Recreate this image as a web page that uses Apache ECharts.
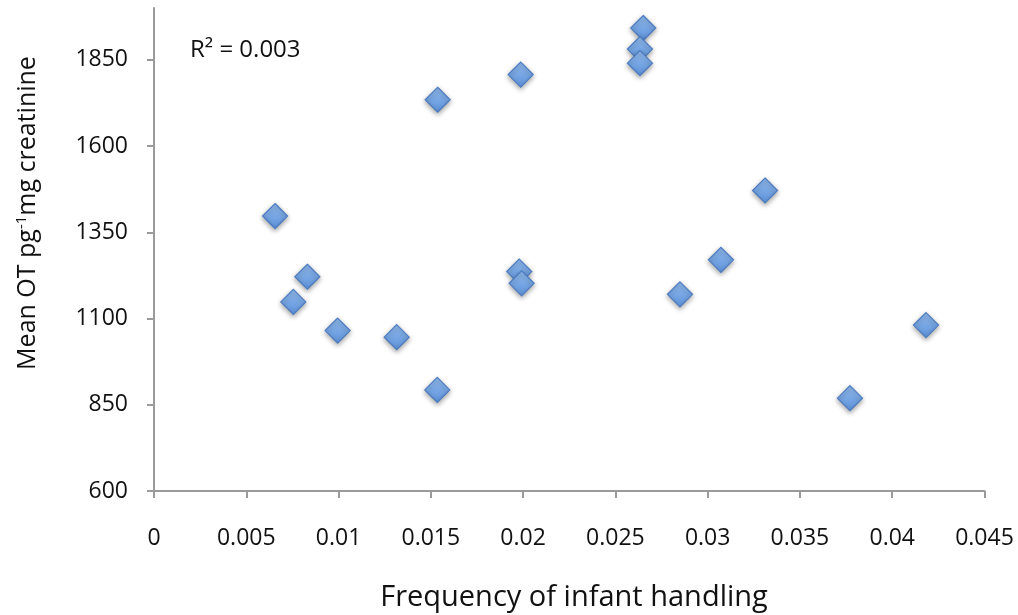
<!DOCTYPE html>
<html>
<head>
<meta charset="utf-8">
<script src="https://cdn.jsdelivr.net/npm/echarts@6/dist/echarts.min.js"></script>
<style>
html,body{margin:0;padding:0;background:#fff;}
#chart{width:1018px;height:615px;}
</style>
</head>
<body>
<div id="chart"></div>
<script>
// Data
const handlingFreq = [0.00656, 0.00755, 0.00831, 0.00995, 0.01315, 0.01537, 0.01535, 0.01987, 0.01979, 0.01992, 0.02651, 0.02633, 0.02633, 0.02850, 0.03072, 0.03311, 0.03771, 0.04183];
const meanOT       = [1397, 1148, 1221, 1065, 1046, 1734, 893, 1807, 1236, 1202, 1942, 1881, 1840, 1170, 1270, 1471, 869, 1081];
const yTicks = [600, 850, 1100, 1350, 1600, 1850];
const xTicks = [0, 0.005, 0.01, 0.015, 0.02, 0.025, 0.03, 0.035, 0.04, 0.045];
const xTickLabels = ['0', '0.005', '0.01', '0.015', '0.02', '0.025', '0.03', '0.035', '0.04', '0.045'];
const rSquaredText = 'R² = 0.003';

const points = handlingFreq.map((x, i) => [x, meanOT[i]]);
const FONT = '"Open Sans", Lato, sans-serif';
const axisColor = '#9a9a9a';
const textColor = '#111111';

const chart = echarts.init(document.getElementById('chart'), null, {renderer: 'canvas'});
chart.setOption({
  animation: false,
  backgroundColor: '#ffffff',
  grid: {left: 154, right: 33.5, top: 8, bottom: 124, containLabel: false},
  xAxis: {
    type: 'value', min: 0, max: 0.045, interval: 0.005,
    splitLine: {show: false},
    axisLine: {show: true, onZero: false, lineStyle: {color: axisColor, width: 2}},
    axisTick: {show: true, length: 7, lineStyle: {color: axisColor, width: 2}, customValues: xTicks},
    axisLabel: {
      margin: 36, fontSize: 23, color: textColor, fontFamily: FONT,
      customValues: xTicks,
      formatter: v => { const i = xTicks.findIndex(t => Math.abs(t - v) < 1e-9); return i >= 0 ? xTickLabels[i] : ''; }
    }
  },
  yAxis: {
    type: 'value', min: 600, max: 2000, interval: 250,
    splitLine: {show: false},
    axisLine: {show: true, onZero: false, lineStyle: {color: axisColor, width: 2}},
    axisTick: {show: true, length: 7, lineStyle: {color: axisColor, width: 2}, customValues: yTicks},
    axisLabel: {margin: 26, fontSize: 23, color: textColor, fontFamily: FONT, customValues: yTicks, formatter: v => String(v)}
  },
  graphic: [
    {
      type: 'text', left: 190, top: 38,
      style: {text: rSquaredText, font: '24px ' + FONT, fill: textColor}
    },
    {
      type: 'text', x: 28, y: 213, rotation: Math.PI / 2,
      style: {
        text: '{a|Mean OT pg}{s|-1}{a|mg creatinine}',
        align: 'center', verticalAlign: 'middle',
        rich: {
          a: {fontSize: 25, fontFamily: FONT, fill: textColor, color: textColor},
          s: {fontSize: 15, fontFamily: FONT, fill: textColor, color: textColor, verticalAlign: 'top', padding: [0, 0, 12, 0]}
        }
      }
    },
    {
      type: 'text', x: 574, y: 598,
      style: {text: 'Frequency of infant handling', font: '29px ' + FONT, fill: textColor, align: 'center', verticalAlign: 'middle'}
    }
  ],
  series: [{
    type: 'scatter',
    data: points,
    symbol: 'diamond',
    symbolSize: [25, 25],
    itemStyle: {
      color: new echarts.graphic.LinearGradient(0, 0, 0, 1, [
        {offset: 0, color: '#92bbee'},
        {offset: 1, color: '#5d92da'}
      ]),
      borderColor: '#4b7cc0',
      borderWidth: 1.2,
      shadowBlur: 5,
      shadowColor: 'rgba(0,0,0,0.35)',
      shadowOffsetY: 2,
      opacity: 1
    }
  }]
});
</script>
</body>
</html>
